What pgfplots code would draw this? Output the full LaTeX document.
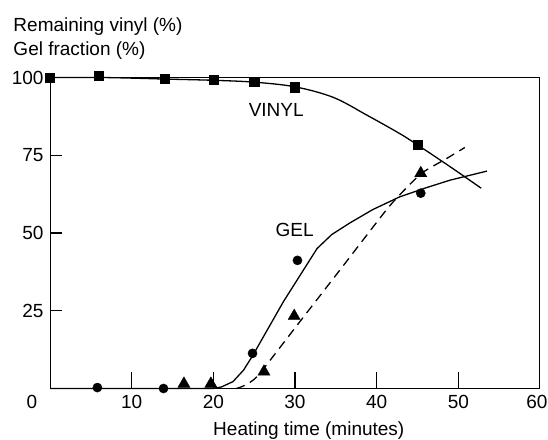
\documentclass[border=0pt]{standalone}
\usepackage{pgfplots}
\pgfplotsset{compat=1.18}
\usepackage{fontspec}
\setmainfont{Liberation Sans}
\begin{document}
\fontsize{19bp}{23bp}\selectfont
\begin{tikzpicture}
\useasboundingbox (0,0) rectangle (548bp,440bp);
\begin{axis}[
  at={(50bp,51.5bp)}, anchor=south west,
  width=490bp, height=311bp, scale only axis,
  xmin=0, xmax=60, ymin=0, ymax=100,
  xtick={10,20,30,40,50,60},
  xticklabels={10,20,30,40,50,{\hspace*{-6bp}60}},
  ytick={25,50,75,100},
  major tick length=0pt,
  axis line style={line width=1bp},
  /pgf/number format/assume math mode=true,
  clip=false,
]
% inward tick marks, in axis units
\draw[line width=1.4bp, black] (axis cs:10,0) -- (axis cs:10,5.2);
\draw[line width=1.4bp, black] (axis cs:20,0) -- (axis cs:20,5.2);
\draw[line width=1.4bp, black] (axis cs:30,0) -- (axis cs:30,5.2);
\draw[line width=1.4bp, black] (axis cs:40,0) -- (axis cs:40,5.2);
\draw[line width=1.4bp, black] (axis cs:50,0) -- (axis cs:50,5.2);
\draw[line width=1.4bp, black] (axis cs:0,25) -- (axis cs:1.5,25);
\draw[line width=1.4bp, black] (axis cs:0,50) -- (axis cs:1.5,50);
\draw[line width=1.4bp, black] (axis cs:0,75) -- (axis cs:1.5,75);
% VINYL curve
\addplot[black, line width=1.3bp, smooth, tension=0.55] coordinates {
 (0,100) (6,100) (10,99.8) (14,99.5) (20,99.1) (25,98.5) (30,97)
 (34.7,93.6) (38.8,87.9) (42.8,82) (44.9,78.5) (49,71.3) (52.8,64.4)};
% GEL solid curve
\addplot[black, line width=1.3bp] coordinates {
 (0,0) (20,0) (21,0.5) (22.4,2.2) (23.7,5.9) (24.8,10.5) (28.6,28) (32.7,45)
 (34.5,49.5) (36.7,53.2) (39.5,57.5) (42.8,61.6) (46,64.5) (49,67) (53.5,69.9)};
% dashed curve
\addplot[black, line width=1.3bp, dash pattern=on 9bp off 6bp, smooth, tension=0.4] coordinates {
 (22.8,0) (23.5,0.6) (24.5,2) (25.7,4.9) (30.6,21.5) (35.5,38.1) (41,56.8) (42.8,62.2)
 (45.5,69.2) (48.6,74) (50.8,77.5)};
% squares
\addplot[only marks, mark=square*, mark size=4.6bp, black] coordinates {
 (0,100) (6,100.5) (14,99.6) (20,99.2) (25,98.6) (30,96.9) (45,78.3)};
% circles
\addplot[only marks, mark=*, mark size=4.6bp, black] coordinates {
 (5.8,0.3) (13.9,0) (24.8,11.3) (30.3,41.2) (45.4,62.8)};
% triangles
\addplot[only marks, mark=triangle*, mark size=7bp, black] coordinates {
 (16.4,1.5) (19.7,1.5) (26.2,5.4) (29.9,23.3) (45.4,69.2)};
\node at (axis cs:27.7,89.6) {VINYL};
\node at (axis cs:29.95,50.9) {GEL};
\end{axis}
\node[anchor=base west, inner sep=0] at (13.3bp,408bp) {Remaining vinyl (\%)};
\node[anchor=base west, inner sep=0] at (13.3bp,384bp) {Gel fraction (\%)};
\node[anchor=base, inner sep=0] at (32bp,32bp) {0};
\node[anchor=base, inner sep=0] at (308.8bp,5bp) {Heating time (minutes)};
\end{tikzpicture}
\end{document}
